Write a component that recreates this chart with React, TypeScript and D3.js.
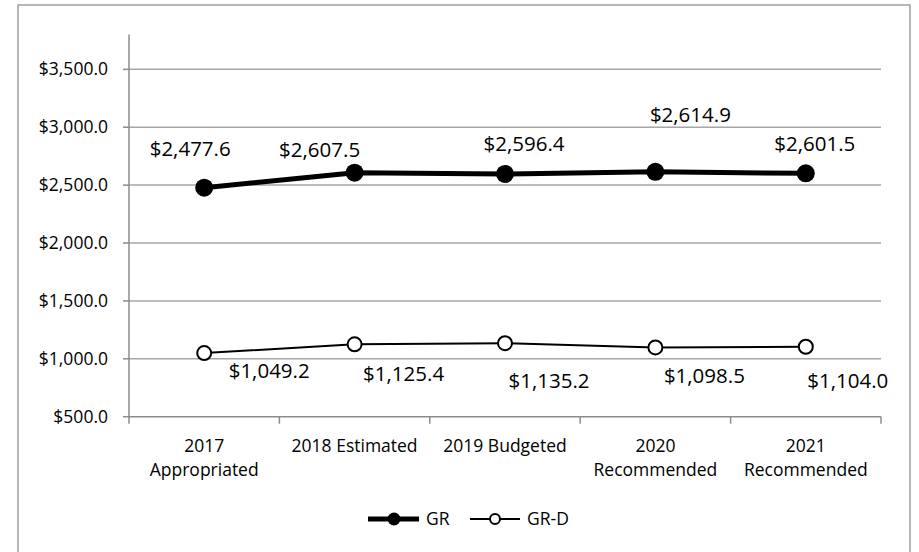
import * as d3 from 'd3';

const categories = ['2017 Appropriated', '2018 Estimated', '2019 Budgeted', '2020 Recommended', '2021 Recommended'];
const categoryLines = [['2017', 'Appropriated'], ['2018 Estimated'], ['2019 Budgeted'], ['2020', 'Recommended'], ['2021', 'Recommended']];
const grValues = [2477.6, 2607.5, 2596.4, 2614.9, 2601.5];
const grdValues = [1049.2, 1125.4, 1135.2, 1098.5, 1104.0];
const yTicks = [500, 1000, 1500, 2000, 2500, 3000, 3500];

// hand-placed data label offsets (px from the point), as in the source chart
const grLabelOffsets = [[-14, -39], [-35, -23], [19, -30], [35, -57], [9, -30]];
const grdLabelOffsets = [[65, 18], [49, 30], [44, 38], [49, 28], [42, 34]];

const FONT = "'Open Sans', sans-serif";
const fmt = (v: number) => '$' + d3.format(',.1f')(v);

export default function App(): JSX.Element {
  const width = 919;
  const height = 552;
  const x = d3.scaleBand<string>().domain(categories).range([129, 881]);
  const y = d3.scaleLinear().domain([500, 3800]).range([416.7, 34.6]);
  const cx = (c: string) => (x(c) as number) + x.bandwidth() / 2;

  const line = d3
    .line<number>()
    .x((_, i) => cx(categories[i]))
    .y(d => y(d));

  const bounds = categories.map(c => x(c) as number).concat([881]);

  return (
    <svg
      xmlns="http://www.w3.org/2000/svg"
      width={width}
      height={height}
      style={{ position: 'absolute', left: 0, top: 0, background: '#fff' }}
      fontFamily={FONT}
    >
      {/* chart frame, bottom edge falls outside the picture */}
      <path d="M18,560 L18,5 L910,5 L910,560" fill="none" stroke="#a0a0a0" strokeWidth={1.5} />

      {/* gridlines */}
      {yTicks.slice(1).map(t => (
        <line key={t} x1={129} x2={881} y1={y(t)} y2={y(t)} stroke="#a6a6a6" strokeWidth={1.5} />
      ))}

      {/* y axis */}
      <line x1={129} x2={129} y1={y(3800)} y2={y(500)} stroke="#8c8c8c" strokeWidth={1.5} />
      {yTicks.map(t => (
        <g key={t}>
          <line x1={123} x2={129} y1={y(t)} y2={y(t)} stroke="#8c8c8c" strokeWidth={1.5} />
          <text x={108} y={y(t)} dy="0.35em" textAnchor="end" fontSize={17.5} fill="#000">
            {fmt(t)}
          </text>
        </g>
      ))}

      {/* x axis */}
      <line x1={129} x2={881} y1={y(500)} y2={y(500)} stroke="#8c8c8c" strokeWidth={1.5} />
      {bounds.map((b, i) => (
        <line key={i} x1={b} x2={b} y1={y(500)} y2={y(500) + 7} stroke="#8c8c8c" strokeWidth={1.5} />
      ))}
      {categories.map((c, i) => (
        <text key={c} x={cx(c)} y={452} textAnchor="middle" fontSize={17.5} fill="#000">
          {categoryLines[i].map((l, j) => (
            <tspan key={j} x={cx(c)} y={452 + j * 24}>
              {l}
            </tspan>
          ))}
        </text>
      ))}

      {/* GR-D series */}
      <path d={line(grdValues) as string} fill="none" stroke="#000" strokeWidth={2} />
      {grdValues.map((v, i) => (
        <circle key={i} cx={cx(categories[i])} cy={y(v)} r={7} fill="#fff" stroke="#000" strokeWidth={2} />
      ))}
      {grdValues.map((v, i) => (
        <text
          key={i}
          x={cx(categories[i]) + grdLabelOffsets[i][0]}
          y={y(v) + grdLabelOffsets[i][1]}
          dy="0.35em"
          textAnchor="middle"
          fontSize={20.5}
          fill="#000"
        >
          {fmt(v)}
        </text>
      ))}

      {/* GR series */}
      <path d={line(grValues) as string} fill="none" stroke="#000" strokeWidth={5} strokeLinejoin="round" />
      {grValues.map((v, i) => (
        <circle key={i} cx={cx(categories[i])} cy={y(v)} r={9} fill="#000" />
      ))}
      {grValues.map((v, i) => (
        <text
          key={i}
          x={cx(categories[i]) + grLabelOffsets[i][0]}
          y={y(v) + grLabelOffsets[i][1]}
          dy="0.35em"
          textAnchor="middle"
          fontSize={20.5}
          fill="#000"
        >
          {fmt(v)}
        </text>
      ))}

      {/* legend */}
      <g>
        <line x1={368} x2={419} y1={519} y2={519} stroke="#000" strokeWidth={5} />
        <circle cx={394} cy={519} r={6.5} fill="#000" />
        <text x={426} y={519} dy="0.35em" fontSize={17.5} fill="#000">GR</text>
        <line x1={470} x2={520} y1={519} y2={519} stroke="#000" strokeWidth={2} />
        <circle cx={495} cy={519} r={5} fill="#fff" stroke="#000" strokeWidth={2} />
        <text x={527} y={519} dy="0.35em" fontSize={17.5} fill="#000">GR-D</text>
      </g>
    </svg>
  );
}
